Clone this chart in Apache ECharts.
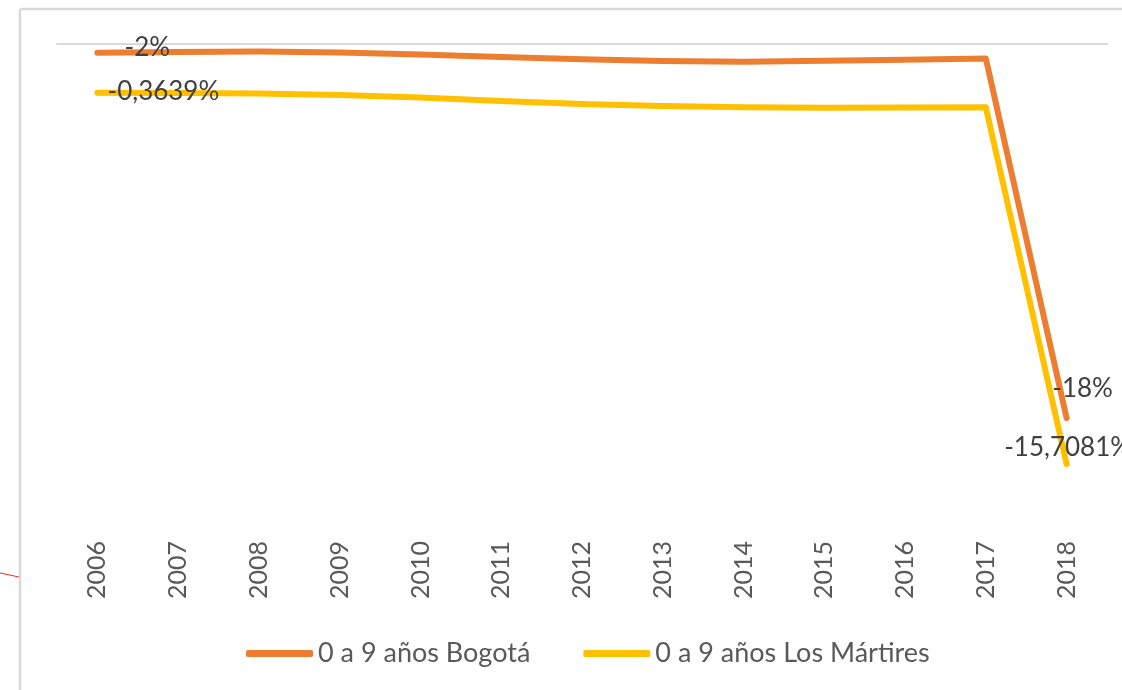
<!DOCTYPE html>
<html>
<head>
<meta charset="utf-8">
<title>0 a 9 años</title>
<script src="https://cdn.jsdelivr.net/npm/echarts@6/dist/echarts.min.js"></script>
<style>
	html,body{margin:0;padding:0;background:#fff;}
	#main{width:1122px;height:690px;}
</style>
</head>
<body>
<div id="main"></div>
<script>
	var years = ['2006', '2007', '2008', '2009', '2010', '2011', '2012', '2013', '2014', '2015', '2016', '2017', '2018'];
	var bogota = [-2, -1.97, -1.95, -1.99, -2.08, -2.19, -2.29, -2.36, -2.4, -2.35, -2.31, -2.26, -18];
	var martires = [-0.3639, -0.376, -0.397, -0.459, -0.562, -0.707, -0.831, -0.913, -0.967, -0.984, -0.976, -0.967, -15.7081];
	var seriesNames = ['0 a 9 años Bogotá', '0 a 9 años Los Mártires'];

	var mychart = echarts.init(document.getElementById('main'));

	function pct(p) {
		return String(p.value).replace('.', ',') + '%';
	}

	// only first and last point carry a label
	function withLabels(values, firstOffset, lastOffset) {
		return values.map(function(v, i) {
			if(i == 0 || i == values.length - 1) {
				return {
					value: v,
					label: {
						show: true,
						position: 'inside',
						offset: i == 0 ? firstOffset : lastOffset,
						formatter: pct,
						fontFamily: 'Lato',
						fontSize: 26,
						color: '#404040'
					}
				};
			}
			return v;
		});
	}

	var option = {
		animation: false,
		grid: { left: 57, right: 15, top: 44, bottom: 160 },
		legend: {
			left: 241,
			top: 635,
			itemWidth: 67,
			itemHeight: 7,
			itemGap: 53,
			icon: 'roundRect',
			textStyle: { fontFamily: 'Lato', fontSize: 27, color: '#595959' },
			data: seriesNames
		},
		xAxis: [{
			type: 'category',
			data: years,
			axisLine: { show: false },
			axisTick: { show: false },
			axisLabel: { rotate: 90, margin: 11, fontFamily: 'Lato', fontSize: 25, color: '#595959' }
		}, {
			type: 'category',
			position: 'top',
			data: years,
			axisLine: { show: true, lineStyle: { color: '#d9d9d9', width: 2 } },
			axisTick: { show: false },
			axisLabel: { show: false }
		}],
		yAxis: [
			{ type: 'value', min: -22.9, max: -1.62, show: false, splitLine: { show: false } },
			{ type: 'value', min: -18.43, max: 1.65, show: false, splitLine: { show: false } }
		],
		series: [{
			name: seriesNames[0],
			type: 'line',
			yAxisIndex: 0,
			data: withLabels(bogota, [50, -5], [16, -29]),
			symbol: 'circle',
			symbolSize: 2,
			itemStyle: { color: '#ED7D31' },
			lineStyle: { width: 6, color: '#ED7D31', cap: 'round', join: 'round' }
		}, {
			name: seriesNames[1],
			type: 'line',
			yAxisIndex: 1,
			data: withLabels(martires, [66, -1], [1, -17]),
			symbol: 'circle',
			symbolSize: 2,
			itemStyle: { color: '#FFC000' },
			lineStyle: { width: 6, color: '#FFC000', cap: 'round', join: 'round' }
		}],
		graphic: [
			{ type: 'line', shape: { x1: 20, y1: 9, x2: 1122, y2: 9 }, style: { stroke: '#d9d9d9', lineWidth: 2.5 } },
			{ type: 'line', shape: { x1: 20, y1: 9, x2: 20, y2: 690 }, style: { stroke: '#d9d9d9', lineWidth: 2.5 } },
			{ type: 'line', shape: { x1: 0, y1: 573, x2: 19, y2: 577 }, style: { stroke: '#e03030', lineWidth: 1 } }
		]
	};
	mychart.setOption(option);
</script>
</body>
</html>
